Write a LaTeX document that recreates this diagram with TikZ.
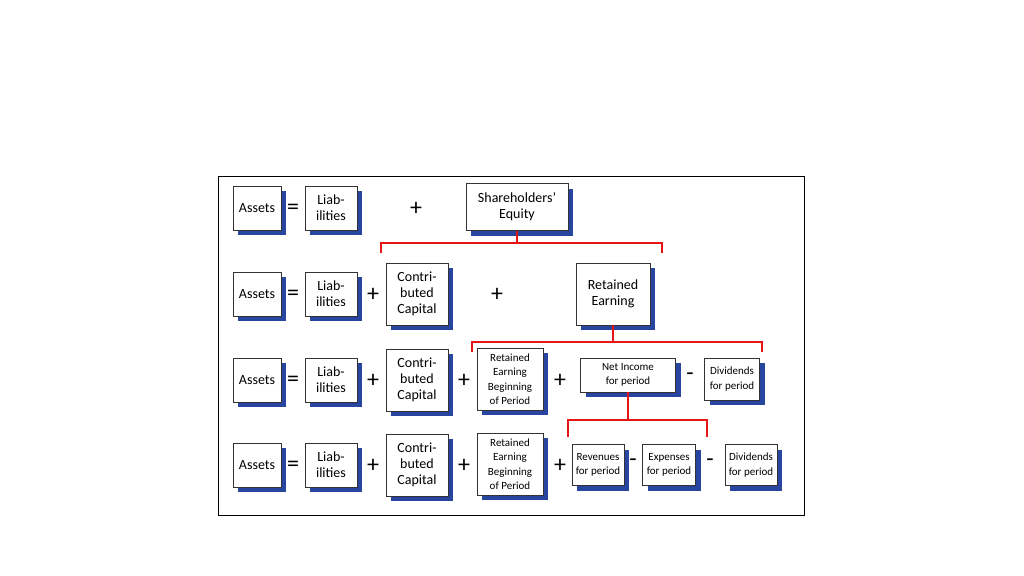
\documentclass[tikz,border=0pt]{standalone}
\usepackage{fontspec}
\setmainfont{Carlito}
\usetikzlibrary{shadows}
\definecolor{shd}{RGB}{40,70,160}
\definecolor{brk}{RGB}{230,20,20}
\begin{document}
\begin{tikzpicture}[x=1pt,y=-1pt,
 box/.style={draw=black!80,fill=white,line width=0.8pt,align=center,inner sep=1pt,font=\fontsize{14}{16}\selectfont,
   drop shadow={shadow xshift=5pt,shadow yshift=-5pt,fill=shd,opacity=1}},
 sbox/.style={box,font=\fontsize{11}{14.5}\selectfont},
 op/.style={font=\fontsize{24}{24}\selectfont,inner sep=0pt},
 br/.style={draw=brk,line width=2.2pt}]
\useasboundingbox (0,0) rectangle (1024,575);
\draw[line width=0.8pt] (218,176) rectangle (804,515);
% row 1
\node[box,minimum width=48,minimum height=44] (a1) at (257,208) {Assets};
\node[op] (e1) at (293,209) {=};
\node[box,minimum width=52,minimum height=44] (l1) at (331,208) {Liab-\\ilities};
\node[op] (p1) at (416,209) {+};
\node[box,minimum width=102,minimum height=47] (se) at (517,207) {Shareholders’\\Equity};
% row 2
\node[box,minimum width=48,minimum height=44] (a2) at (257,294) {Assets};
\node[op] (e2) at (293,295) {=};
\node[box,minimum width=52,minimum height=44] (l2) at (331,294) {Liab-\\ilities};
\node[op] (p2) at (373,295) {+};
\node[box,minimum width=62,minimum height=62] (c2) at (417,294) {Contri-\\buted\\Capital};
\node[op] (p2b) at (497,295) {+};
\node[box,minimum width=74,minimum height=62] (re2) at (613,294) {Retained\\Earning};
% row 3
\node[box,minimum width=48,minimum height=44] (a3) at (257,380) {Assets};
\node[op] (e3) at (293,381) {=};
\node[box,minimum width=52,minimum height=44] (l3) at (331,380) {Liab-\\ilities};
\node[op] (p3) at (373,381) {+};
\node[box,minimum width=62,minimum height=62] (c3) at (417,380) {Contri-\\buted\\Capital};
\node[op] (p3b) at (464,381) {+};
\node[sbox,minimum width=66,minimum height=62] (rb3) at (510,379) {Retained\\Earning\\Beginning\\of Period};
\node[op] (p3c) at (560,381) {+};
\node[sbox,minimum width=95,minimum height=34] (ni3) at (628,375) {Net Income\\for period};
\node[op] (m3) at (690,377) {-};
\node[sbox,minimum width=55,minimum height=42] (d3) at (732,379) {Dividends\\for period};
% row 4
\node[box,minimum width=48,minimum height=44] (a4) at (257,465) {Assets};
\node[op] (e4) at (293,466) {=};
\node[box,minimum width=52,minimum height=44] (l4) at (331,465) {Liab-\\ilities};
\node[op] (p4) at (373,466) {+};
\node[box,minimum width=62,minimum height=62] (c4) at (417,465) {Contri-\\buted\\Capital};
\node[op] (p4b) at (464,466) {+};
\node[sbox,minimum width=66,minimum height=62] (rb4) at (510,464) {Retained\\Earning\\Beginning\\of Period};
\node[op] (p4c) at (560,466) {+};
\node[sbox,minimum width=52,minimum height=41] (rv4) at (598,465) {Revenues\\for period};
\node[op] (m4) at (633,463) {-};
\node[sbox,minimum width=53,minimum height=41] (ex4) at (669,465) {Expenses\\for period};
\node[op] (m4b) at (710,463) {-};
\node[sbox,minimum width=52,minimum height=41] (d4) at (751,465) {Dividends\\for period};
% brackets
\draw[br] (381,253) -- (381,243) -- (662,243) -- (662,253);
\draw[br] (se.south) -- (se.south |- 0,243);
\draw[br] (472,352) -- (472,342) -- (762,342) -- (762,352);
\draw[br] (re2.south) -- (re2.south |- 0,342);
\draw[br] (568,437) -- (568,420) -- (707,420) -- (707,437);
\draw[br] (ni3.south) -- (ni3.south |- 0,420);
\end{tikzpicture}
\end{document}
